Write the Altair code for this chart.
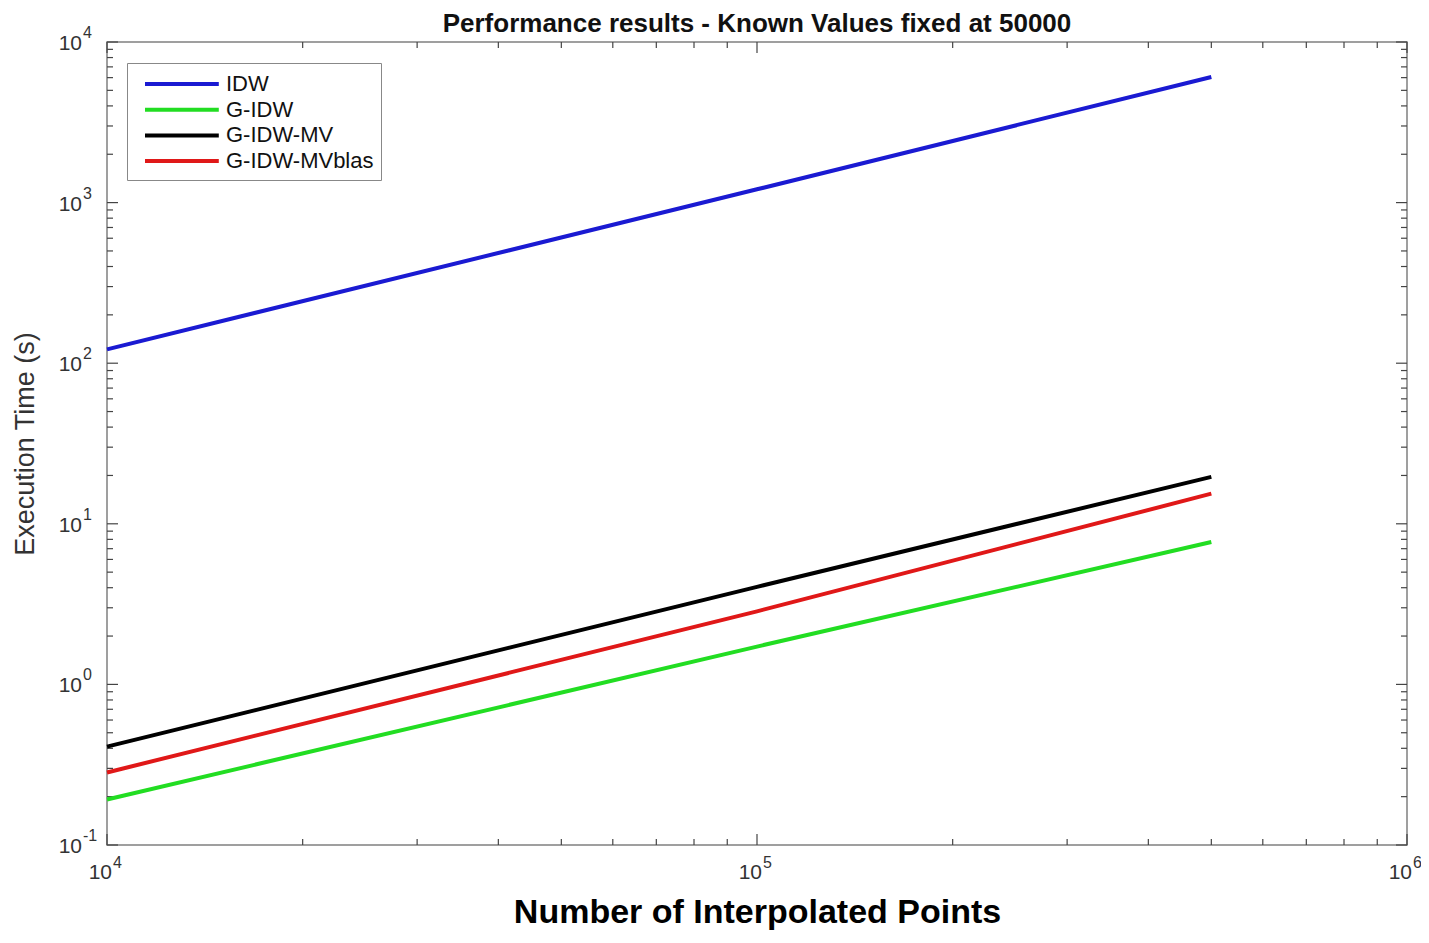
import altair as alt
import pandas as pd

# ---- data ----
methods = ["IDW", "G-IDW", "G-IDW-MV", "G-IDW-MVblas"]
colors = ["#1a1ad2", "#22dd22", "#000000", "#e01818"]
points = [10000, 100000, 500000]
idw = [122, 1210, 6050]
g_idw = [0.192, 1.72, 7.7]
g_idw_mv = [0.41, 4.05, 19.6]
g_idw_mvblas = [0.283, 2.85, 15.4]

x_major = [1e4, 1e5, 1e6]
x_minor = [m * d for d in (1e4, 1e5) for m in range(2, 10)]
y_major = [1e-1, 1e0, 1e1, 1e2, 1e3, 1e4]
y_minor = [m * d for d in (1e-1, 1e0, 1e1, 1e2, 1e3) for m in range(2, 10)]

rows = []
for name, vals in zip(methods, [idw, g_idw, g_idw_mv, g_idw_mvblas]):
    for p, v in zip(points, vals):
        rows.append({"method": name, "points": p, "time": v})
df = pd.DataFrame(rows)

W, H = 1300, 803
FONT = "Liberation Sans"
LABEL_COL = "#333333"

xscale = alt.Scale(type="log", domain=[1e4, 1e6], nice=False)
yscale = alt.Scale(type="log", domain=[1e-1, 1e4], nice=False)

lines = alt.Chart(df).mark_line(strokeWidth=4).encode(
    x=alt.X("points:Q", scale=xscale,
            axis=alt.Axis(labels=False, ticks=False, domain=False, grid=False,
                          title="Number of Interpolated Points",
                          titleFont=FONT, titleFontSize=34, titleFontWeight="bold",
                          titleColor="#000000", titlePadding=50)),
    y=alt.Y("time:Q", scale=yscale,
            axis=alt.Axis(labels=False, ticks=False, domain=False, grid=False,
                          title="Execution Time (s)",
                          titleFont=FONT, titleFontSize=27, titleFontWeight="normal",
                          titleColor="#333333", titlePadding=68)),
    color=alt.Color("method:N", scale=alt.Scale(domain=methods, range=colors),
                    legend=alt.Legend(title=None, orient="none", legendX=20, legendY=21,
                                      symbolType="M-0.25,0H5.9", symbolStrokeWidth=4,
                                      symbolSize=576, labelFont=FONT, labelFontSize=22,
                                      labelColor="#111111", fillColor="white",
                                      strokeColor="#888888", padding=7, rowPadding=0.7,
                                      labelOffset=64)),
    detail="method:N",
)

tick_col = "#444444"
xmaj_df = pd.DataFrame({"v": x_major})
xmin_df = pd.DataFrame({"v": x_minor})
ymaj_df = pd.DataFrame({"v": y_major})
ymin_df = pd.DataFrame({"v": y_minor})


def xticks(d, length):
    bottom = alt.Chart(d).mark_rule(color=tick_col, strokeWidth=1.2).encode(
        x=alt.X("v:Q", scale=xscale), y=alt.value("height"),
        y2=alt.value({"expr": f"height - {length}"}))
    top = alt.Chart(d).mark_rule(color=tick_col, strokeWidth=1.2).encode(
        x=alt.X("v:Q", scale=xscale), y=alt.value(0), y2=alt.value(length))
    return bottom + top


def yticks(d, length):
    left = alt.Chart(d).mark_rule(color=tick_col, strokeWidth=1.2).encode(
        y=alt.Y("v:Q", scale=yscale), x=alt.value(0), x2=alt.value(length))
    right = alt.Chart(d).mark_rule(color=tick_col, strokeWidth=1.2).encode(
        y=alt.Y("v:Q", scale=yscale), x=alt.value("width"),
        x2=alt.value({"expr": f"width - {length}"}))
    return left + right


exp_calc = "'' + round(log(datum.v) / log(10))"

x_base = alt.Chart(xmaj_df).mark_text(
    font=FONT, fontSize=21, color=LABEL_COL, align="right", baseline="middle", dx=5, dy=28
).encode(x=alt.X("v:Q", scale=xscale), y=alt.value("height"), text=alt.value("10"))
x_exp = alt.Chart(xmaj_df).transform_calculate(e=exp_calc).mark_text(
    font=FONT, fontSize=16, color=LABEL_COL, align="left", baseline="middle", dx=6, dy=18
).encode(x=alt.X("v:Q", scale=xscale), y=alt.value("height"), text="e:N")

y_base = alt.Chart(ymaj_df).mark_text(
    font=FONT, fontSize=21, color=LABEL_COL, align="right", baseline="middle", dx=-25, dy=2
).encode(y=alt.Y("v:Q", scale=yscale), x=alt.value(0), text=alt.value("10"))
y_exp = alt.Chart(ymaj_df).transform_calculate(e=exp_calc).mark_text(
    font=FONT, fontSize=16, color=LABEL_COL, align="left", baseline="middle", dx=-24, dy=-9
).encode(y=alt.Y("v:Q", scale=yscale), x=alt.value(0), text="e:N")

chart = alt.layer(
    xticks(xmaj_df, 11), xticks(xmin_df, 6), yticks(ymaj_df, 11), yticks(ymin_df, 6),
    x_base, x_exp, y_base, y_exp, lines
).properties(
    width=W, height=H,
    title=alt.TitleParams("Performance results - Known Values fixed at 50000",
                          font=FONT, fontSize=26, fontWeight="bold", color="#111111",
                          offset=0, dy=12, anchor="middle", frame="group"),
    autosize=alt.AutoSizeParams(type="none"),
    padding={"left": 99, "top": 34, "right": 14, "bottom": 90},
).configure_view(stroke="#808080", strokeWidth=1.5)

chart.save("out.html", embed_options={"renderer": "svg", "actions": False})
